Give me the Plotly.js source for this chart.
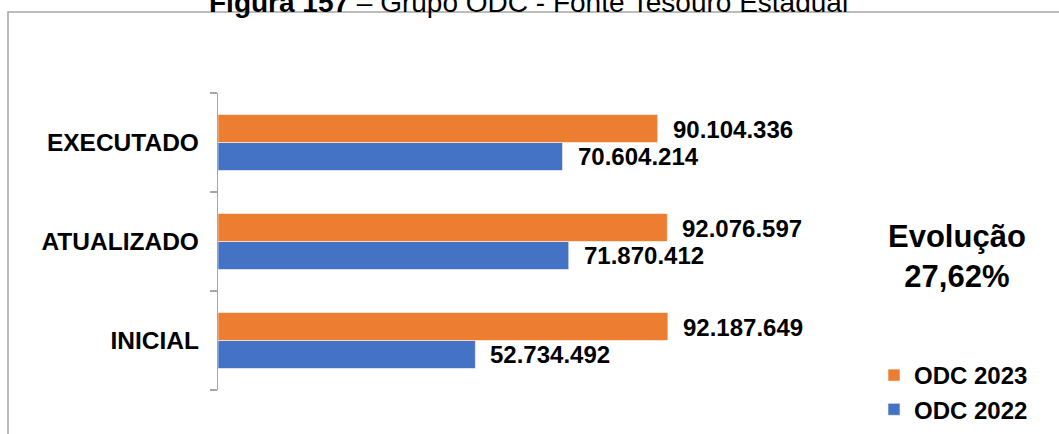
<!DOCTYPE html>
<html>
<head>
<meta charset="utf-8">
<script src="https://cdn.plot.ly/plotly-3.0.1.min.js"></script>
<style>html,body{margin:0;padding:0;background:#fff;}#chart{width:1059px;height:434px;}</style>
</head>
<body>
<div id="chart"></div>
<script>
// Data (categories listed bottom to top)
const categories = ['INICIAL', 'ATUALIZADO', 'EXECUTADO'];
const odc2022 = [52734492, 71870412, 70604214];
const odc2023 = [92187649, 92076597, 90104336];
const seriesNames = ['ODC 2022', 'ODC 2023'];
const titleBold = 'Figura 157';
const titleRest = ' – Grupo ODC - Fonte Tesouro Estadual';
const evolucaoLabel = 'Evolução';
const evolucaoValue = '27,62%';

function fmtBR(v) {
  return String(Math.round(v)).replace(/\B(?=(\d{3})+(?!\d))/g, '.');
}

const W = 1059, H = 434;
const L = 218, R = 706, T = 93, B = 390;
const pw = R - L, ph = B - T;
const px = x => (x - L) / pw;
const py = y => (B - y) / ph;

const FONT = 'Liberation Sans, Arial, sans-serif';
const BLUE = '#4472C4', ORANGE = '#ED7D31';

const traces = [
  {type: 'bar', orientation: 'h', name: seriesNames[0], y: categories, x: odc2022,
   marker: {color: BLUE, line: {color: 'rgba(255,255,255,0.7)', width: 0.8}}, hoverinfo: 'none'},
  {type: 'bar', orientation: 'h', name: seriesNames[1], y: categories, x: odc2023,
   marker: {color: ORANGE, line: {color: 'rgba(255,255,255,0.7)', width: 0.8}}, hoverinfo: 'none'}
];

const annotations = [];
categories.forEach((c, i) => {
  annotations.push({x: odc2023[i], y: c, xref: 'x', yref: 'y', text: '<b>' + fmtBR(odc2023[i]) + '</b>',
    showarrow: false, xanchor: 'left', yanchor: 'middle', xshift: 13, yshift: 13,
    font: {family: FONT, size: 24, color: '#000'}});
  annotations.push({x: odc2022[i], y: c, xref: 'x', yref: 'y', text: '<b>' + fmtBR(odc2022[i]) + '</b>',
    showarrow: false, xanchor: 'left', yanchor: 'middle', xshift: 13, yshift: -14,
    font: {family: FONT, size: 24, color: '#000'}});
});
annotations.push({xref: 'paper', yref: 'paper', x: px(957), y: py(256), xanchor: 'center', yanchor: 'middle',
  text: '<b>' + evolucaoLabel + '<br>' + evolucaoValue + '</b>', showarrow: false,
  font: {family: FONT, size: 31, color: '#000'}});
annotations.push({xref: 'paper', yref: 'paper', x: px(528), y: py(20.5), xanchor: 'center', yanchor: 'bottom',
  text: '<b>' + titleBold + '</b>' + titleRest, showarrow: false,
  font: {family: FONT, size: 28, color: '#000'}});

const layout = {
  width: W, height: H,
  margin: {l: L, r: W - R, t: T, b: H - B, pad: 0, autoexpand: false},
  paper_bgcolor: '#fff', plot_bgcolor: '#fff',
  barmode: 'group', bargap: 0.434, bargroupgap: 0,
  showlegend: true,
  legend: {x: px(874), y: py(353), xanchor: 'left', yanchor: 'top', traceorder: 'reversed',
    font: {family: FONT, size: 24, color: '#000', weight: 'bold'}, bgcolor: 'rgba(0,0,0,0)'},
  xaxis: {range: [0, 100e6], visible: false, fixedrange: true},
  yaxis: {type: 'category', range: [-0.5, 2.5], showline: true, linecolor: '#a6a6a6', linewidth: 1.2,
    ticks: 'outside', tickson: 'boundaries', ticklen: 7, tickcolor: '#a6a6a6', tickwidth: 1.2,
    ticklabelstandoff: 13, showgrid: false, zeroline: false,
    tickfont: {family: FONT, size: 24.5, color: '#000', weight: 'bold'}},
  shapes: [{type: 'rect', xref: 'paper', yref: 'paper', x0: px(8), x1: px(1070), y0: py(450), y1: py(12),
    line: {color: '#a6a6a6', width: 1.5}, fillcolor: 'rgba(0,0,0,0)', layer: 'below'}],
  annotations: annotations
};

Plotly.newPlot('chart', traces, layout, {displayModeBar: false, staticPlot: true});
</script>
</body>
</html>
